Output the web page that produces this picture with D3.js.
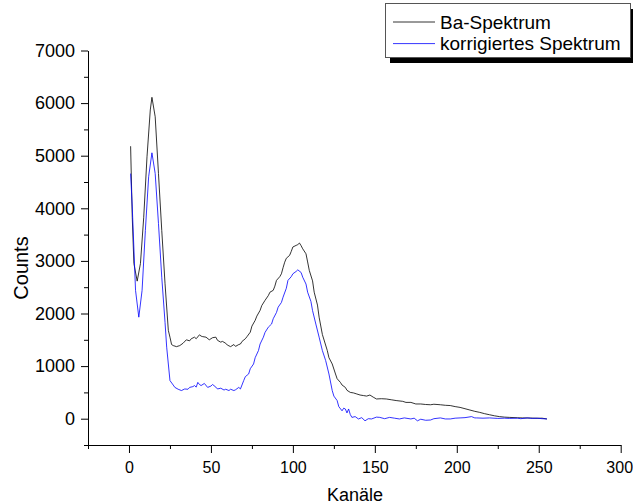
<!DOCTYPE html>
<html>
<head>
<meta charset="utf-8">
<script src="https://cdn.jsdelivr.net/npm/d3@7"></script>
<style>
  body { margin: 0; background: #fff; }
  text { font-family: "Liberation Sans", Arial, sans-serif; fill: #000; }
</style>
</head>
<body>
<div id="chart"></div>
<script>
// Ba-Spektrum (black)
const kanaeleBa = [1, 2, 3, 5, 7, 9, 11, 13, 14, 16, 18, 20, 22, 24, 25, 26, 27, 29, 31, 33, 35, 37, 38, 40, 41, 43, 44, 45, 47, 49,
  51, 53, 54, 56, 57, 59, 60, 62, 64, 65, 67, 68, 69, 71, 72, 74, 75, 77, 78, 80, 81, 83, 85, 86, 88, 89, 90, 92, 93, 94,
  95, 96, 98, 99, 100, 102, 103, 104, 105, 106, 108, 109, 110, 112, 113, 115, 116, 118, 121, 122, 124, 126, 127, 129, 130, 132, 133, 135, 137, 139,
  141, 143, 145, 147, 149, 151, 154, 157, 160, 163, 167, 169, 172, 175, 178, 181, 184, 186, 190, 193, 196, 199, 202, 205, 208, 211, 214, 217, 220, 223,
  226, 229, 232, 237, 240, 245, 249, 252, 255];
const countsBa = [5180, 3830, 2950, 2615, 2950, 3830, 4980, 5870, 6110, 5740, 4660, 3580, 2565, 1680, 1550, 1410, 1390, 1370, 1390, 1435, 1500, 1480, 1520, 1550, 1520, 1595, 1570, 1560, 1550, 1500,
  1540, 1550, 1490, 1455, 1470, 1435, 1400, 1370, 1410, 1375, 1410, 1420, 1470, 1520, 1560, 1645, 1760, 1870, 1950, 2060, 2150, 2250, 2340, 2405, 2440, 2520, 2630, 2700, 2755, 2870,
  2975, 3050, 3105, 3180, 3265, 3295, 3310, 3340, 3290, 3230, 3135, 2980, 2820, 2620, 2405, 2160, 1930, 1600, 1295, 1160, 1040, 850, 760, 690, 640, 595, 540, 500, 490, 470,
  450, 440, 430, 450, 410, 375, 380, 375, 360, 345, 330, 310, 310, 280, 280, 270, 265, 275, 265, 255, 250, 230, 215, 190, 165, 140, 120, 95, 75, 55,
  40, 30, 25, 18, 15, 13, 8, 10, -5];

// korrigiertes Spektrum (blue)
const kanaeleKorr = [1, 2, 4, 6, 8, 10, 12, 14, 16, 18, 20, 22, 23, 25, 27, 28, 30, 32, 34, 36, 37, 39, 40, 41, 42, 43, 44, 46, 48, 50,
  51, 53, 54, 56, 58, 59, 61, 62, 64, 65, 67, 68, 70, 71, 73, 74, 76, 77, 79, 80, 82, 83, 85, 87, 88, 90, 91, 93, 94, 96,
  97, 99, 100, 102, 103, 105, 106, 108, 109, 111, 112, 114, 116, 118, 120, 122, 124, 125, 127, 128, 130, 131, 132, 133, 134, 135, 136, 138, 140, 142,
  144, 146, 148, 151, 153, 156, 159, 162, 165, 168, 172, 174, 176, 178, 181, 184, 186, 190, 193, 196, 199, 202, 205, 209, 211, 212, 216, 220, 225, 229,
  232, 237, 239, 243, 246, 249, 252, 255];
const countsKorr = [4660, 4025, 2440, 1930, 2440, 3580, 4600, 5055, 4660, 3710, 2690, 1830, 1360, 725, 640, 595, 560, 535, 565, 560, 595, 610, 630, 600, 690, 650, 630, 670, 595, 620,
  650, 600, 565, 580, 545, 560, 535, 560, 535, 550, 595, 565, 725, 800, 850, 950, 1040, 1160, 1295, 1420, 1550, 1640, 1740, 1800, 1900, 2020, 2120, 2210, 2310, 2480,
  2630, 2700, 2755, 2800, 2830, 2780, 2690, 2560, 2405, 2230, 2055, 1800, 1550, 1295, 1105, 850, 535, 430, 345, 230, 150, 200, 185, 110, 185, 80, 25, 40, -5, 20,
  -40, 0, -5, 30, 25, 0, 25, 10, -5, 15, -5, 10, -40, -10, -30, -25, 0, 15, -5, -5, 10, 15, 20, 40, 15, 15, 10, 15, 5, 10,
  5, 10, 0, 15, 5, 10, 0, -5];

const xMajor = [0, 50, 100, 150, 200, 250, 300];
const xMinor = [-25, 25, 75, 125, 175, 225, 275];
const yMajor = [0, 1000, 2000, 3000, 4000, 5000, 6000, 7000];
const yMinor = [-500, 500, 1500, 2500, 3500, 4500, 5500, 6500];
const seriesNames = ['Ba-Spektrum', 'korrigiertes Spektrum'];
const seriesColors = ['#000000', '#0000ff'];

const width = 633, height = 504;
const plot = { left: 88, right: 620.7, top: 50.5, bottom: 445 };

const svg = d3.select('#chart').append('svg')
  .attr('width', width)
  .attr('height', height);

const x = d3.scaleLinear().domain([-25, 300]).range([plot.left, plot.right]);
const y = d3.scaleLinear().domain([-500, 7000]).range([plot.bottom, plot.top]);

// axes
const yAxis = svg.append('g')
  .attr('transform', `translate(${plot.left},0)`)
  .call(d3.axisLeft(y).tickValues(yMajor).tickFormat(d3.format('d'))
    .tickSize(7).tickSizeOuter(0).tickPadding(6));
yAxis.selectAll('text').style('font-size', '18px');

svg.append('g')
  .attr('transform', `translate(${plot.left},0)`)
  .call(d3.axisLeft(y).tickValues(yMinor).tickSize(4).tickSizeOuter(0).tickFormat(''))
  .select('.domain').remove();

const xAxis = svg.append('g')
  .attr('transform', `translate(0,${plot.bottom})`)
  .call(d3.axisBottom(x).tickValues(xMajor).tickFormat(d3.format('d'))
    .tickSize(8).tickSizeOuter(0).tickPadding(9));
xAxis.selectAll('text').style('font-size', '16px');
// keep the last label inside the window
xAxis.selectAll('text').filter(d => d === 300).attr('dx', '-1.5');

svg.append('g')
  .attr('transform', `translate(0,${plot.bottom})`)
  .call(d3.axisBottom(x).tickValues(xMinor).tickSize(4).tickSizeOuter(0).tickFormat(''))
  .select('.domain').remove();

svg.selectAll('.domain, .tick line').attr('stroke', '#000').attr('stroke-width', 1);

// axis titles
svg.append('text')
  .attr('x', 355)
  .attr('y', 501)
  .attr('text-anchor', 'middle')
  .style('font-size', '18px')
  .text('Kanäle');

svg.append('text')
  .attr('transform', 'translate(28,268) rotate(-90)')
  .attr('text-anchor', 'middle')
  .style('font-size', '20px')
  .text('Counts');

// lines
const line = d3.line()
  .x(d => x(d[0]))
  .y(d => y(d[1]));

const dataBa = kanaeleBa.map((k, i) => [k, countsBa[i]]);
const dataKorr = kanaeleKorr.map((k, i) => [k, countsKorr[i]]);

svg.append('path')
  .datum(dataBa)
  .attr('fill', 'none')
  .attr('stroke', seriesColors[0])
  .attr('stroke-width', 0.8)
  .attr('d', line);

svg.append('path')
  .datum(dataKorr)
  .attr('fill', 'none')
  .attr('stroke', seriesColors[1])
  .attr('stroke-width', 0.8)
  .attr('d', line);

// legend
const lg = svg.append('g').attr('transform', 'translate(385,3)');
lg.append('rect')
  .attr('x', 5).attr('y', 6)
  .attr('width', 246).attr('height', 54)
  .attr('fill', '#000');
lg.append('rect')
  .attr('x', 0.5).attr('y', 0.5)
  .attr('width', 245).attr('height', 54)
  .attr('fill', '#fff')
  .attr('stroke', '#555');

seriesNames.forEach((name, i) => {
  const yy = 19 + i * 21.6;
  lg.append('line')
    .attr('x1', 8).attr('x2', 50)
    .attr('y1', yy).attr('y2', yy)
    .attr('stroke', seriesColors[i])
    .attr('stroke-width', 0.8);
  lg.append('text')
    .attr('x', 55)
    .attr('y', yy + 6.5)
    .style('font-size', '19px')
    .text(name);
});
</script>
</body>
</html>
